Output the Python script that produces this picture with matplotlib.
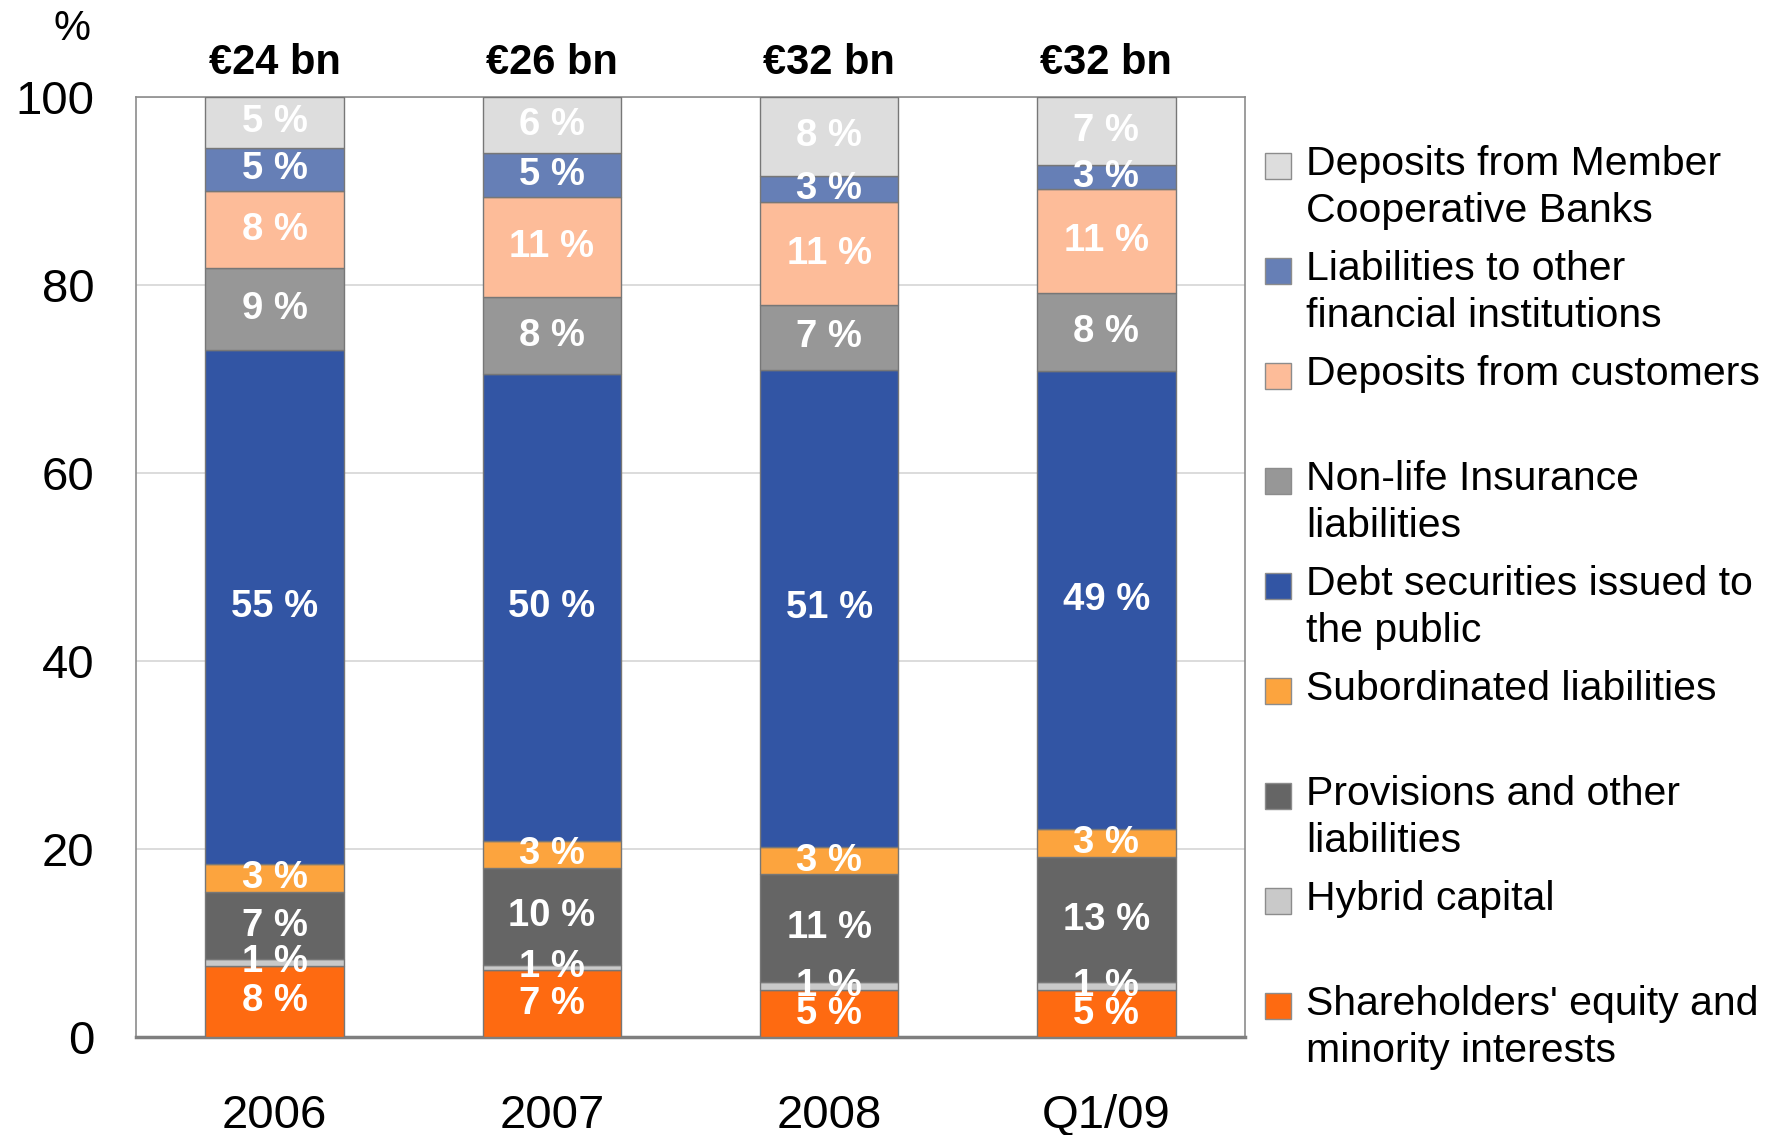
"""Liabilities structure, stacked 100 % bars with segment labels and totals.

Outputs:
    out.png   - 1780x1135 stacked bar chart with side legend
"""

from __future__ import annotations

import matplotlib
matplotlib.use("Agg")
import matplotlib.pyplot as plt
from matplotlib.patches import Rectangle

PLOT_PATH = "out.png"

periods = ["2006", "2007", "2008", "Q1/09"]
totals = ["€24 bn", "€26 bn", "€32 bn", "€32 bn"]

# Stacked bottom -> top
series_names = [
    "Shareholders' equity and\nminority interests",
    "Hybrid capital",
    "Provisions and other\nliabilities",
    "Subordinated liabilities",
    "Debt securities issued to\nthe public",
    "Non-life Insurance\nliabilities",
    "Deposits from customers",
    "Liabilities to other\nfinancial institutions",
    "Deposits from Member\nCooperative Banks",
]
equity = [7.6, 7.1, 5.0, 5.0]
hybrid = [0.7, 0.6, 0.9, 0.9]
provisions = [7.1, 10.3, 11.4, 13.2]
subordinated = [3.0, 2.9, 2.9, 3.0]
debt_securities = [54.7, 49.6, 50.8, 48.7]
non_life = [8.7, 8.2, 6.9, 8.4]
customers = [8.2, 10.7, 10.9, 11.0]
other_fi = [4.6, 4.6, 2.8, 2.6]
member_banks = [5.4, 6.0, 8.4, 7.2]

series_values = [equity, hybrid, provisions, subordinated, debt_securities,
                 non_life, customers, other_fi, member_banks]
series_colors = ["#FE6A11", "#C9C9C9", "#656565", "#FCA43E", "#3255A4",
                 "#979797", "#FDBC99", "#667FB6", "#DDDDDD"]

W, H = 1780, 1135
FONT = "Liberation Sans"


def main() -> None:
    plt.rcParams["font.family"] = [FONT, "DejaVu Sans"]
    fig = plt.figure(figsize=(W / 100, H / 100), dpi=100)
    ax = fig.add_axes([136 / W, 1 - 1037 / H, (1245 - 136) / W, (1037 - 97) / H])

    x = list(range(len(periods)))
    bottom = [0.0] * len(periods)
    for vals, color in zip(series_values, series_colors):
        ax.bar(x, vals, width=0.5, bottom=bottom, color=color,
               edgecolor="#777777", linewidth=1.0, zorder=3)
        for xi, b, v in zip(x, bottom, vals):
            ax.text(xi, b + v / 2, f"{v:.0f} %", ha="center", va="center",
                    color="white", fontsize=27.5, fontweight="bold", zorder=4)
        bottom = [b + v for b, v in zip(bottom, vals)]

    # totals above each bar
    for xi, t in zip(x, totals):
        ax.text(xi, 1.036, t, transform=ax.get_xaxis_transform(), ha="center",
                va="center", fontsize=30, fontweight="bold", clip_on=False)

    ax.set_xlim(-0.5, len(periods) - 0.5)
    ax.set_ylim(0, 100)
    ax.set_yticks(range(0, 101, 20))
    ax.set_xticks(x)
    ax.set_xticklabels(periods)
    ax.tick_params(axis="both", length=0, labelsize=34)
    ax.tick_params(axis="y", pad=30)
    ax.tick_params(axis="x", pad=41)
    ax.grid(axis="y", color="#D9D9D9", linewidth=1.3, zorder=0)
    ax.set_axisbelow(True)
    for side in ("top", "left", "right"):
        ax.spines[side].set_color("#8C8C8C")
        ax.spines[side].set_linewidth(1.2)
    ax.spines["bottom"].set_color("#7F7F7F")
    ax.spines["bottom"].set_linewidth(2.5)

    fig.text(72 / W, 1 - 29 / H, "%", ha="center", va="center", fontsize=30)

    # legend: fixed equal slots, top entry = top of the stack
    for i, (name, color) in enumerate(zip(series_names[::-1], series_colors[::-1])):
        yc = 166 + 105 * i
        fig.patches.append(Rectangle((1265 / W, 1 - (yc + 13) / H), 26 / W, 26 / H,
                                     transform=fig.transFigure, facecolor=color,
                                     edgecolor="#8C8C8C", linewidth=1.0))
        fig.text(1306 / W, 1 - (yc - 21) / H, name, ha="left", va="top",
                 fontsize=29.5, linespacing=1.31)

    fig.savefig(PLOT_PATH, dpi=100)
    plt.close(fig)


if __name__ == "__main__":
    main()
